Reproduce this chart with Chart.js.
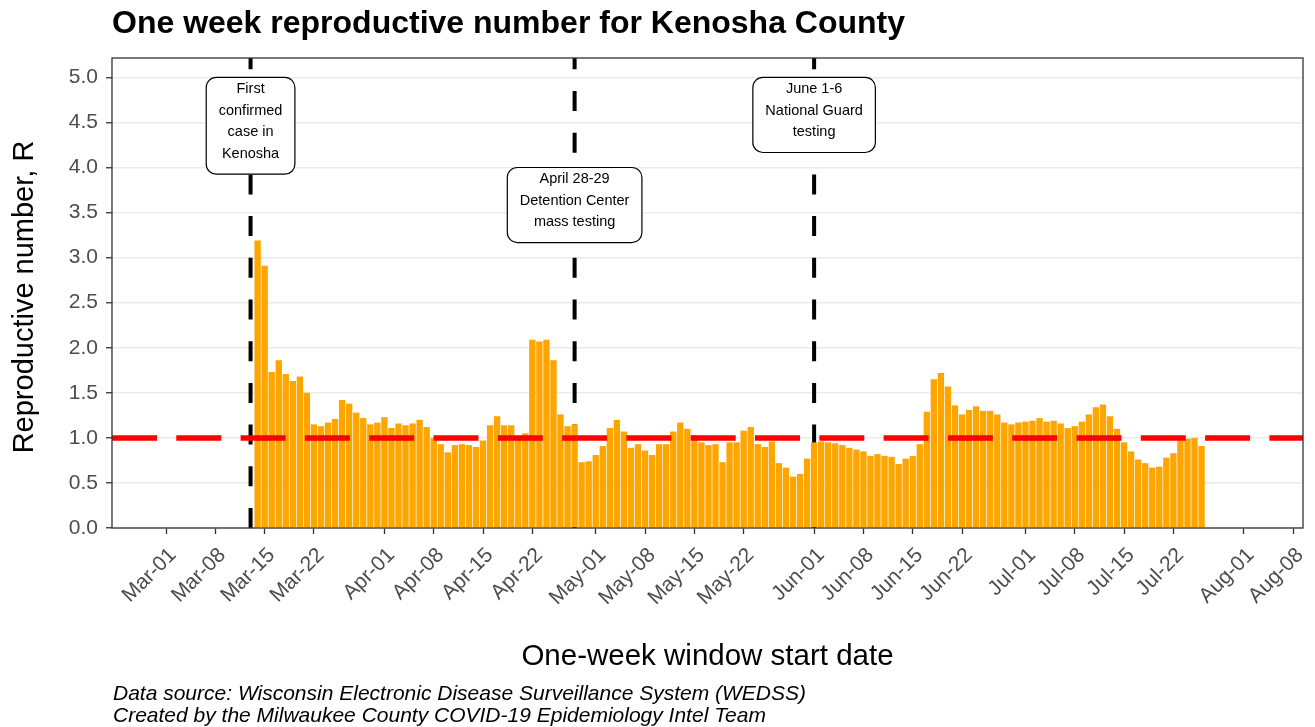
<!DOCTYPE html>
<html><head><meta charset="utf-8">
<script src="https://cdn.jsdelivr.net/npm/chart.js@4.4.1/dist/chart.umd.min.js"></script>
<style>html,body{margin:0;padding:0;background:#fff}#wrap{width:1315px;height:727px;position:relative}</style>
</head><body><div id="wrap"><canvas id="c"></canvas></div>
<script>
const chartTitle = 'One week reproductive number for Kenosha County';
const xAxisTitle = 'One-week window start date';
const yAxisTitle = 'Reproductive number, R';
const captionLines = [
  'Data source: Wisconsin Electronic Disease Surveillance System (WEDSS)',
  'Created by the Milwaukee County COVID-19 Epidemiology Intel Team'
];
// Day numbers are counted from Mar-01 (= day 0)
const firstBarDay = 13; // Mar-14
const rValues = [
  3.19, 2.91, 1.73, 1.86, 1.71, 1.63, 1.68, 1.50, 1.15, 1.13,
  1.17, 1.21, 1.42, 1.38, 1.28, 1.22, 1.15, 1.17, 1.23, 1.11,
  1.16, 1.14, 1.16, 1.20, 1.12, 1.00, 0.93, 0.84, 0.92, 0.93,
  0.92, 0.90, 0.97, 1.14, 1.24, 1.14, 1.14, 1.02, 1.05, 2.09,
  2.07, 2.09, 1.86, 1.26, 1.13, 1.15, 0.73, 0.74, 0.81, 0.91,
  1.11, 1.20, 1.07, 0.89, 0.93, 0.86, 0.81, 0.93, 0.93, 1.07,
  1.17, 1.10, 1.03, 0.95, 0.92, 0.93, 0.73, 0.95, 0.95, 1.08,
  1.12, 0.93, 0.90, 0.96, 0.72, 0.67, 0.57, 0.60, 0.77, 0.95,
  0.96, 0.95, 0.94, 0.92, 0.89, 0.87, 0.85, 0.80, 0.82, 0.80,
  0.79, 0.71, 0.77, 0.80, 0.93, 1.29, 1.65, 1.72, 1.57, 1.36,
  1.26, 1.31, 1.35, 1.30, 1.30, 1.26, 1.17, 1.15, 1.17, 1.18,
  1.19, 1.22, 1.18, 1.19, 1.16, 1.11, 1.13, 1.18, 1.26, 1.34,
  1.37, 1.24, 1.10, 0.95, 0.85, 0.76, 0.72, 0.67, 0.68, 0.78,
  0.83, 0.97, 0.99, 1.00, 0.91
];
const xTickDays = [0, 7, 14, 21, 31, 38, 45, 52, 61, 68, 75, 82, 92, 99, 106, 113, 122, 129, 136, 143, 153, 160];
const xTickLabels = ['Mar-01','Mar-08','Mar-15','Mar-22','Apr-01','Apr-08','Apr-15','Apr-22','May-01','May-08','May-15','May-22','Jun-01','Jun-08','Jun-15','Jun-22','Jul-01','Jul-08','Jul-15','Jul-22','Aug-01','Aug-08'];
const xMinDay = -7.67, xMaxDay = 161.4;
const yTickValues = [0, 0.5, 1, 1.5, 2, 2.5, 3, 3.5, 4, 4.5, 5];
const yTickLabels = ['0.0','0.5','1.0','1.5','2.0','2.5','3.0','3.5','4.0','4.5','5.0'];
const yMax = 5.215;
const eventDays = [12, 58, 92];            // Mar-13, Apr-28, Jun-01
const eventLabelTops = [5.0, 4.0, 5.0];
const eventLabels = [
  ['First', 'confirmed', 'case in', 'Kenosha'],
  ['April 28-29', 'Detention Center', 'mass testing'],
  ['June 1-6', 'National Guard', 'testing']
];
const referenceR = 1.0;

const FONT = "'Liberation Sans', Arial, Helvetica, sans-serif";
const barData = rValues.map((v, i) => ({ x: firstBarDay + i, y: v }));
const yAllTicks = [];
yTickValues.forEach((v, i) => { yAllTicks.push(v); if (i < yTickValues.length - 1) yAllTicks.push((v + yTickValues[i + 1]) / 2); });
const isMajorY = v => yTickValues.some(t => Math.abs(t - v) < 1e-6);

const overlay = {
  id: 'overlay',
  beforeDatasetsDraw(chart) {
    const { ctx, chartArea: a, scales: { x } } = chart;
    ctx.save();
    ctx.beginPath(); ctx.rect(a.left, a.top, a.right - a.left, a.bottom - a.top); ctx.clip();
    ctx.strokeStyle = '#000'; ctx.lineWidth = 4; ctx.setLineDash([20, 21.7]); ctx.lineCap = 'butt';
    eventDays.forEach(d => {
      const px = x.getPixelForValue(d);
      ctx.beginPath(); ctx.moveTo(px, a.bottom); ctx.lineTo(px, a.top); ctx.stroke();
    });
    ctx.restore();
  },
  afterDatasetsDraw(chart) {
    const { ctx, chartArea: a, scales: { x, y } } = chart;
    ctx.save();
    const py = y.getPixelForValue(referenceR);
    ctx.strokeStyle = '#FF0000'; ctx.lineWidth = 5.5; ctx.setLineDash([45, 19.3]);
    ctx.beginPath(); ctx.moveTo(a.left, py); ctx.lineTo(a.right, py); ctx.stroke();
    ctx.setLineDash([]);
    ctx.font = '14.5px ' + FONT;
    const lh = 21.7;
    eventDays.forEach((d, k) => {
      const lines = eventLabels[k];
      const px = x.getPixelForValue(d);
      const top = y.getPixelForValue(eventLabelTops[k]);
      const w = Math.max(...lines.map(s => ctx.measureText(s).width)) + 25;
      const h = lines.length * lh + 10;
      ctx.beginPath();
      ctx.roundRect(px - w / 2, top, w, h, 10);
      ctx.fillStyle = '#fff'; ctx.fill();
      ctx.strokeStyle = '#000'; ctx.lineWidth = 1.2; ctx.stroke();
      ctx.fillStyle = '#000'; ctx.textAlign = 'center'; ctx.textBaseline = 'middle';
      lines.forEach((s, i) => ctx.fillText(s, px, top + 11.5 + lh * i));
    });
    ctx.strokeStyle = '#333333'; ctx.lineWidth = 1.3;
    ctx.strokeRect(a.left, a.top, a.right - a.left, a.bottom - a.top);
    ctx.restore();
  },
  afterDraw(chart) {
    const { ctx, chartArea: a } = chart;
    ctx.save();
    ctx.fillStyle = '#000';
    ctx.font = 'bold 32px ' + FONT; ctx.textAlign = 'left'; ctx.textBaseline = 'alphabetic';
    ctx.fillText(chartTitle, 112, 33);
    ctx.font = '29.5px ' + FONT; ctx.textAlign = 'center';
    ctx.fillText(xAxisTitle, (a.left + a.right) / 2, 665);
    ctx.save();
    ctx.font = '29px ' + FONT;
    ctx.translate(33, (a.top + a.bottom) / 2 + 4); ctx.rotate(-Math.PI / 2);
    ctx.fillText(yAxisTitle, 0, 0);
    ctx.restore();
    ctx.font = 'italic 21px ' + FONT; ctx.textAlign = 'left';
    ctx.fillText(captionLines[0], 113, 700);
    ctx.fillText(captionLines[1], 113, 722);
    ctx.restore();
  }
};

new Chart(document.getElementById('c'), {
  type: 'bar',
  data: { datasets: [{ data: barData, backgroundColor: '#FFA500', borderWidth: 0, barPercentage: 0.9, categoryPercentage: 1.0 }] },
  options: {
    responsive: true, maintainAspectRatio: false, animation: false,
    layout: { padding: { left: 0, right: 12, top: 58, bottom: 0 } },
    plugins: { legend: { display: false }, tooltip: { enabled: false }, title: { display: false } },
    scales: {
      x: {
        type: 'linear', min: xMinDay, max: xMaxDay, offset: false,
        afterBuildTicks: s => { s.ticks = xTickDays.map(v => ({ value: v })); },
        afterFit: s => { s.height = 727 - 528; s.paddingLeft = 0; s.paddingRight = 0; },
        ticks: {
          autoSkip: false, minRotation: 45, maxRotation: 45, padding: 9, labelOffset: 7,
          color: '#4D4D4D', font: { family: FONT, size: 21 },
          callback: (v, i) => xTickLabels[i]
        },
        grid: { offset: false, drawOnChartArea: false, drawTicks: true, tickLength: 6, tickColor: '#333333', tickWidth: 1.3 },
        border: { display: false }
      },
      y: {
        type: 'linear', min: 0, max: yMax,
        afterBuildTicks: s => { s.ticks = yAllTicks.map(v => ({ value: v })); },
        afterFit: s => { s.width = 112; s.paddingTop = 0; s.paddingBottom = 0; },
        ticks: {
          padding: 8, color: '#4D4D4D', font: { family: FONT, size: 21 },
          callback: v => { const i = yTickValues.findIndex(t => Math.abs(t - v) < 1e-6); return i >= 0 ? yTickLabels[i] : ''; }
        },
        grid: {
          color: '#EBEBEB', lineWidth: 1.5, tickLength: 6,
          tickColor: c => (c.tick && isMajorY(c.tick.value)) ? '#333333' : 'rgba(0,0,0,0)', tickWidth: 1.3
        },
        border: { display: false }
      }
    }
  },
  plugins: [overlay]
});
</script></body></html>
